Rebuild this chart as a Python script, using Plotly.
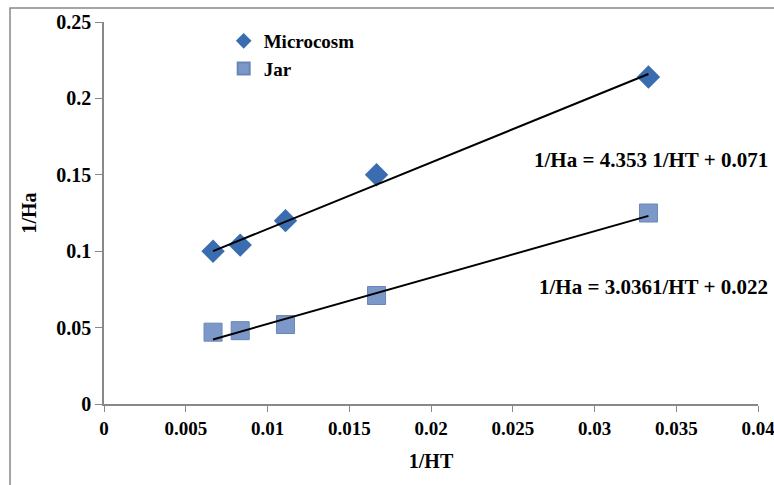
import plotly.graph_objects as go
import numpy as np

ht_inv = [0.00667, 0.00833, 0.0111, 0.01667, 0.0333]
micro = [0.100, 0.104, 0.120, 0.150, 0.214]
jar = [0.047, 0.048, 0.052, 0.071, 0.125]

micro_slope, micro_int = 4.353, 0.071
jar_slope, jar_int = 3.0361, 0.022

x_ticks = [0, 0.005, 0.01, 0.015, 0.02, 0.025, 0.03, 0.035, 0.04]
x_ticktext = ["0", "0.005", "0.01", "0.015", "0.02", "0.025", "0.03", "0.035", "0.04"]
y_ticks = [0, 0.05, 0.1, 0.15, 0.2, 0.25]
y_ticktext = ["0", "0.05", "0.1", "0.15", "0.2", "0.25"]

FONT = "Liberation Serif"
FS = 20

fig = go.Figure()
xl = np.array([ht_inv[0], ht_inv[-1]])
fig.add_trace(go.Scatter(x=ht_inv, y=micro, mode="markers", name="Microcosm",
                         marker=dict(symbol="diamond", size=18, color="#3A6CB0",
                                     line=dict(width=0))))
fig.add_trace(go.Scatter(x=ht_inv, y=jar, mode="markers", name="Jar",
                         marker=dict(symbol="square", size=18, color="#7C98C8",
                                     line=dict(width=1, color="#6A86B8"))))
fig.add_trace(go.Scatter(x=xl, y=micro_slope * xl + micro_int, mode="lines",
                         line=dict(color="black", width=2), showlegend=False, hoverinfo="skip"))
fig.add_trace(go.Scatter(x=xl, y=jar_slope * xl + jar_int, mode="lines",
                         line=dict(color="black", width=2), showlegend=False, hoverinfo="skip"))

fig.update_layout(
    width=774, height=485,
    margin=dict(l=104, r=16, t=22, b=81, autoexpand=False),
    paper_bgcolor="white", plot_bgcolor="white",
    font=dict(family=FONT, size=FS, color="black"),
    showlegend=True,
    legend=dict(x=0.183, y=1.0, xanchor="left", yanchor="top",
                font=dict(family=FONT, size=19, color="black", weight="bold"),
                bgcolor="rgba(0,0,0,0)", tracegroupgap=0, itemsizing="constant"),
    xaxis=dict(range=[0, 0.04], tickvals=x_ticks, ticktext=x_ticktext,
               showgrid=False, zeroline=False, showline=True, linecolor="#888888",
               linewidth=1.5, ticks="outside", tickcolor="#888888", ticklen=6,
               automargin=False, ticklabeloverflow="allow",
               tickfont=dict(family=FONT, size=19, weight="bold"),
               title=dict(text="<b>1/HT</b>", font=dict(family=FONT, size=FS), standoff=16)),
    yaxis=dict(range=[0, 0.25], tickvals=y_ticks, ticktext=y_ticktext,
               showgrid=False, zeroline=False, showline=True, linecolor="#888888",
               linewidth=1.5, ticks="outside", tickcolor="#888888", ticklen=7,
               automargin=False, ticklabeloverflow="allow",
               tickfont=dict(family=FONT, size=FS, weight="bold"),
               title=dict(text="<b>1/Ha</b>", font=dict(family=FONT, size=FS), standoff=14)),
    shapes=[dict(type="rect", xref="paper", yref="paper", x0=-0.1437, x1=1.2,
                 y0=-0.4, y1=1.0366, line=dict(color="#888888", width=1.5),
                 fillcolor="rgba(0,0,0,0)", layer="below")],
    annotations=[
        dict(text="<b>1/Ha = 4.353 1/HT + 0.071</b>", xref="paper", yref="paper",
             x=0.655, y=0.64, xanchor="left", yanchor="middle", showarrow=False,
             font=dict(family=FONT, size=21, color="black")),
        dict(text="<b>1/Ha = 3.0361/HT + 0.022</b>", xref="paper", yref="paper",
             x=0.662, y=0.305, xanchor="left", yanchor="middle", showarrow=False,
             font=dict(family=FONT, size=21, color="black")),
    ],
)
fig.write_html("out.html", config={"displayModeBar": False},
               post_script="document.body.style.margin='0';document.body.style.overflow='hidden';")
